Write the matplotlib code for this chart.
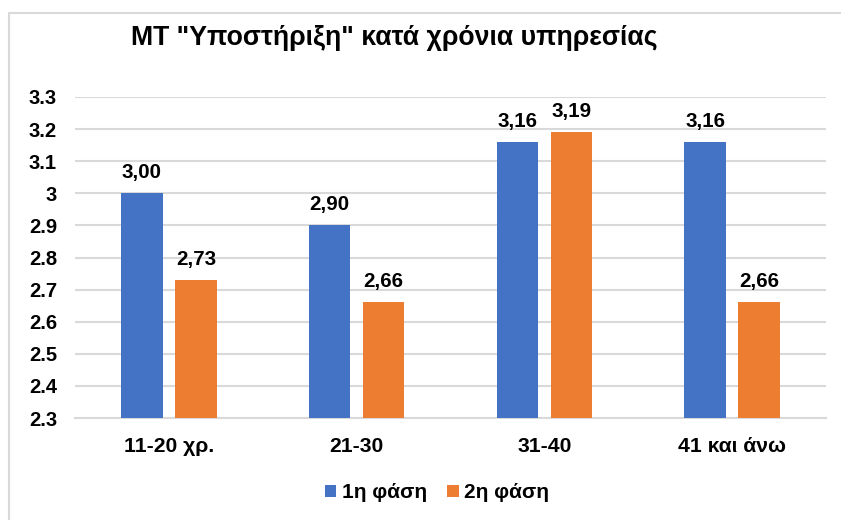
import matplotlib
matplotlib.use("Agg")
import matplotlib.pyplot as plt
from matplotlib.patches import Rectangle
import numpy as np

plt.rcParams['font.family'] = ['Liberation Sans', 'DejaVu Sans']
plt.rcParams['font.weight'] = 'bold'

categories = ["11-20 χρ.", "21-30", "31-40", "41 και άνω"]
phase1 = [3.00, 2.90, 3.16, 3.16]
phase2 = [2.73, 2.66, 3.19, 2.66]
series_names = ["1η φάση", "2η φάση"]
yticks = [2.3, 2.4, 2.5, 2.6, 2.7, 2.8, 2.9, 3.0, 3.1, 3.2, 3.3]
ytick_labels = ["2.3", "2.4", "2.5", "2.6", "2.7", "2.8", "2.9", "3", "3.1", "3.2", "3.3"]
title = 'ΜΤ "Υποστήριξη" κατά χρόνια υπηρεσίας'

blue = "#4472C4"
orange = "#ED7D31"

fig = plt.figure(figsize=(8.41, 5.20), dpi=100)
ax = fig.add_axes([75/841, 1-418/520, (826-75)/841, (418-97)/520])

# outer chart frame
fig.patches.append(Rectangle((8.5/841, -0.1), 1.2, 1.1 - 13.5/520,
                             transform=fig.transFigure, fill=False,
                             edgecolor="#D9D9D9", linewidth=1.5))

x = np.arange(len(categories))
w = 0.221
off = 0.144
b1 = ax.bar(x - off, [v - 2.3 for v in phase1], w, bottom=2.3, color=blue, label=series_names[0], zorder=3)
b2 = ax.bar(x + off, [v - 2.3 for v in phase2], w, bottom=2.3, color=orange, label=series_names[1], zorder=3)

for xs, vals in ((x - off, phase1), (x + off, phase2)):
    for xi, v in zip(xs, vals):
        ax.annotate(f"{v:.2f}".replace(".", ","), (xi, v), xytext=(0, 11),
                    textcoords="offset points", ha="center", va="baseline",
                    fontsize=14.8, fontweight="bold", color="black")

ax.set_xlim(-0.5, 3.5)
ax.set_ylim(2.3, 3.3)
ax.set_yticks(yticks)
ax.set_yticklabels(ytick_labels)
ax.set_xticks(x)
ax.set_xticklabels(categories)
ax.tick_params(axis="both", length=0, colors="black")
ax.tick_params(axis="y", labelsize=14.5, pad=13)
ax.tick_params(axis="x", labelsize=15.2, pad=14)
for lab in ax.get_yticklabels() + ax.get_xticklabels():
    lab.set_fontweight("bold")

ax.grid(axis="y", color="#D9D9D9", linewidth=1.5, zorder=0)
for s in ("top", "right", "left"):
    ax.spines[s].set_visible(False)
ax.spines["bottom"].set_color("#D9D9D9")
ax.spines["bottom"].set_linewidth(1.5)

fig.text(394/841, 1-38/520, title, ha="center", va="center",
         fontsize=19.2, fontweight="bold")

leg = fig.legend(handles=[b1, b2], loc="center", bbox_to_anchor=(437/841, 1-493/520),
                 ncol=2, frameon=False, fontsize=15, handlelength=0.55, handleheight=0.55,
                 handletextpad=0.25, columnspacing=1.0)
for t in leg.get_texts():
    t.set_fontweight("bold")

fig.savefig("out.png", dpi=100)
